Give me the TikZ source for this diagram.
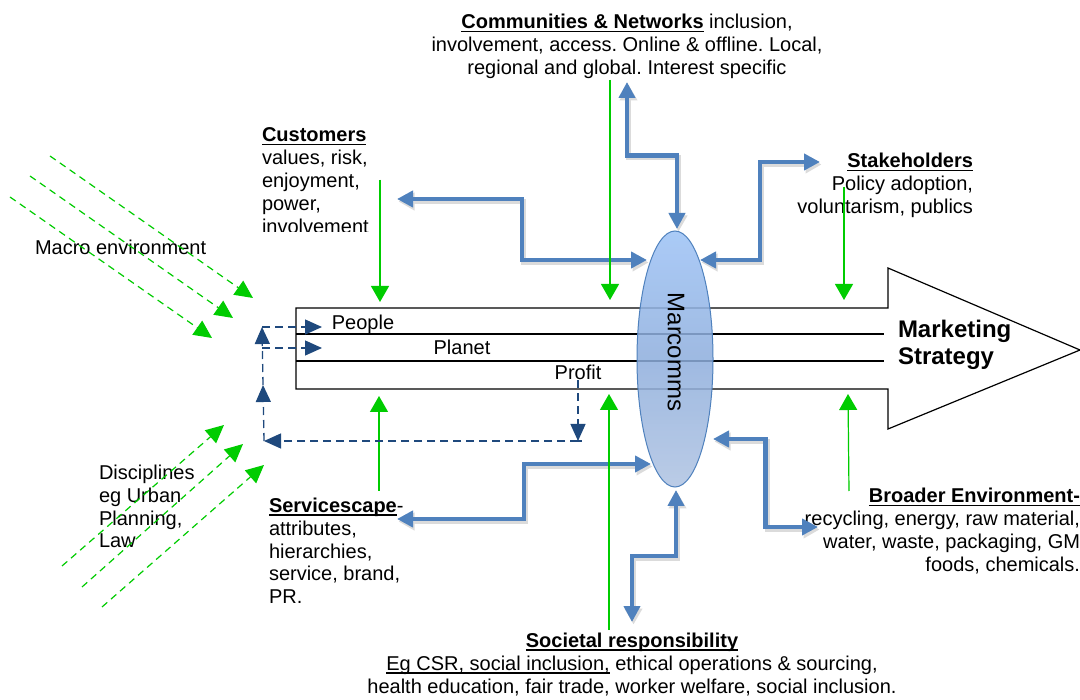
\documentclass[tikz,border=0pt]{standalone}
\usepackage{fontspec}
\setmainfont{Liberation Sans}
\frenchspacing
\newcommand\myul[1]{\leavevmode\setbox0\hbox{#1}\rlap{\rule[-3.5pt]{\wd0}{1.2pt}}\box0\relax}
\usetikzlibrary{arrows.meta,shapes.geometric,calc}
\definecolor{grn}{HTML}{00CC00}
\definecolor{blu}{HTML}{4F81BD}
\definecolor{nvy}{HTML}{1F497D}
\definecolor{elltop}{HTML}{9CC2F6}
\definecolor{ellmid}{HTML}{8EAEDD}
\definecolor{ellbot}{HTML}{AFC3E2}
\begin{document}
\begin{tikzpicture}[x=1pt,y=-1pt,
  txt/.style={font=\fontsize{20}{23}\selectfont, inner sep=0pt, outer sep=0pt},
  garrow/.style={draw=grn, line width=1.2pt, -{Triangle[width=18pt,length=16pt]}, fill=grn},
  gdash/.style={draw=grn, line width=1.2pt, dash pattern=on 7pt off 5pt, -{Triangle[width=17pt,length=18pt,fill=grn,sep=0pt]}},
  ndash/.style={draw=nvy, line width=1.3pt, dash pattern=on 8pt off 5pt, -{Triangle[width=15pt,length=17pt]}},
  barrow/.style={draw=blu, line width=4.5pt, {Triangle[width=16pt,length=16pt]}-{Triangle[width=16pt,length=16pt]}},
  bshadow/.style={draw=black!14, line width=5pt, {Triangle[width=17pt,length=16pt]}-{Triangle[width=17pt,length=16pt]}, transform canvas={shift={(1.5pt,-2.5pt)}}},
  hvh/.style={to path={-| ($(\tikztostart)!.5!(\tikztotarget)$) |- (\tikztotarget)}},
  vhv/.style={to path={|- ($(\tikztostart)!.5!(\tikztotarget)$) -| (\tikztotarget)}},
]
\useasboundingbox[fill=white] (0,0) rectangle (1080,700);

% coordinates for connectors
\coordinate (custB) at (397,199);  \coordinate (mA) at (647,260);
\coordinate (commB) at (627,82);   \coordinate (mB) at (677,229);
\coordinate (stakB) at (820,162);  \coordinate (mC) at (700,260);
\coordinate (servB) at (397,519);  \coordinate (mD) at (651,464);
\coordinate (socB) at (632,622);   \coordinate (mE) at (676,490);
\coordinate (broadB) at (818,527); \coordinate (mF) at (713,439);

% shadows of the blue connectors
\draw[bshadow] (custB) to[hvh] (mA);
\draw[bshadow] (commB) to[vhv] (mB);
\draw[bshadow] (stakB) to[hvh] (mC);
\draw[bshadow] (servB) to[hvh] (mD);
\draw[bshadow] (socB) to[vhv] (mE);
\draw[bshadow] (broadB) to[hvh] (mF);

% big arrow
\draw[line width=1.2pt, line join=miter] (296,308) -- (888,308) -- (888,268) -- (1080,350) -- (888,429) -- (888,389) -- (296,389) -- cycle;
\draw[line width=1.2pt] (296,334) -- (884,334);
\draw[line width=1.2pt] (296,361) -- (884,361);

\node[txt, anchor=base] (people) at (363,330) {People};
\node[txt, anchor=base] (planet) at (462,355) {Planet};
\node[txt, anchor=base] (profit) at (578,380) {Profit};
\node[txt, anchor=base west, align=left, font=\bfseries\fontsize{24}{27}\selectfont] (mkt) at (898,365) {Marketing\\Strategy};

% texts (anchor = baseline of the last line)
\node[txt, anchor=base, align=center] (comm) at (627,75) {\textbf{\myul{Communities \& Networks}} inclusion,\\involvement, access. Online \& offline. Local,\\regional and global. Interest specific};
\begin{scope}
\clip (250,100) rectangle (420,232);
\node[txt, anchor=base west, align=left] (cust) at (262,234) {\textbf{\myul{Customers}}\\values, risk,\\enjoyment,\\power,\\involvement};
\end{scope}
\node[txt, anchor=base east, align=right] (stak) at (973,214) {\textbf{\myul{Stakeholders}}\\Policy adoption,\\voluntarism, publics};
\node[txt, anchor=base west] (macro) at (35,255) {Macro environment};
\node[txt, anchor=base west, align=left] (disc) at (99,548) {Disciplines\\eg Urban\\Planning,\\Law};
\node[txt, anchor=base west, align=left] (serv) at (269,604) {\textbf{\myul{Servicescape}}-\\attributes,\\hierarchies,\\service, brand,\\PR.};
\node[txt, anchor=base east, align=right] (broad) at (1080,572) {\textbf{\myul{Broader Environment-}}\\recycling, energy, raw material,\\water, waste, packaging, GM\\foods, chemicals.};
\node[txt, anchor=base, align=center] (soc) at (632,693) {\textbf{\myul{Societal responsibility}}\\\myul{Eg CSR, social inclusion,} ethical operations \& sourcing,\\health education, fair trade, worker welfare, social inclusion.};

% Marcomms ellipse
\node[ellipse, minimum width=76pt, minimum height=256pt, inner sep=0pt, draw=blu, line width=1pt,
  top color=elltop, bottom color=ellbot, middle color=ellmid, fill opacity=0.85] (marc) at (675,359) {};
\node[font=\fontsize{24}{28}\selectfont, inner sep=0pt, rotate=-90] (marct) at (676,352) {Marcomms};

% blue connectors
\draw[barrow] (custB) to[hvh] (mA);
\draw[barrow] (commB) to[vhv] (mB);
\draw[barrow] (stakB) to[hvh] (mC);
\draw[barrow] (servB) to[hvh] (mD);
\draw[barrow] (socB) to[vhv] (mE);
\draw[barrow] (broadB) to[hvh] (mF);

% green solid arrows
\coordinate (g1a) at (380,180); \coordinate (g1b) at (380,302);
\coordinate (g2a) at (610,80);  \coordinate (g2b) at (610,300);
\coordinate (g3a) at (844,187); \coordinate (g3b) at (844,300);
\coordinate (g4a) at (379,491); \coordinate (g4b) at (379,396);
\coordinate (g5a) at (609,630); \coordinate (g5b) at (609,394);
\coordinate (g6a) at (849,491); \coordinate (g6b) at (848,394);
\foreach \i in {1,...,6} \draw[garrow] (g\i a) -- (g\i b);

% green dashed arrows
\coordinate (d1a) at (50,156);  \coordinate (d1b) at (253,298);
\coordinate (d2a) at (30,176);  \coordinate (d2b) at (233,318);
\coordinate (d3a) at (10,197);  \coordinate (d3b) at (212,338);
\coordinate (d4a) at (62,566);  \coordinate (d4b) at (224,425);
\coordinate (d5a) at (82,587);  \coordinate (d5b) at (243,444);
\coordinate (d6a) at (102,607); \coordinate (d6b) at (264,465);
\foreach \i in {1,...,6} \draw[gdash] (d\i a) -- (d\i b);

% navy dashed feedback
\coordinate (n1) at (578,441);
\coordinate (n2) at (264,441);
\coordinate (n3) at (263,385);
\coordinate (n4) at (262,327);
\coordinate (n5) at (262,348);
\coordinate (n6) at (322,327);
\coordinate (n7) at (322,348);
\draw[ndash] (profit.south -| 578,0) -- (n1);
\draw[draw=nvy, line width=1.3pt, dash pattern=on 8pt off 5pt] (n1) -- ++(4,0);
\draw[ndash] (n1) -- (n2);
\draw[ndash] (n2) -- (n3);
\draw[ndash] (n3) -- (n4);
\draw[ndash] (n4) -- (n6);
\draw[ndash] (n5) -- (n7);
\end{tikzpicture}
\end{document}
